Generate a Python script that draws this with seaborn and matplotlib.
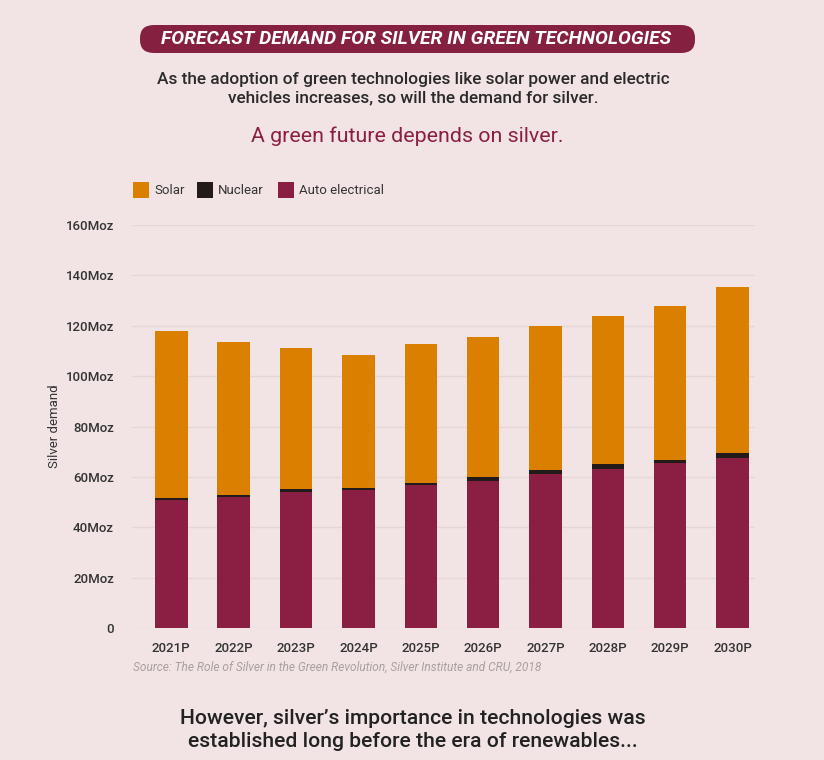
import matplotlib
matplotlib.use("Agg")
import matplotlib.pyplot as plt
from matplotlib.patches import FancyBboxPatch, Rectangle
import seaborn as sns
import numpy as np
import pandas as pd

years = ["2021P", "2022P", "2023P", "2024P", "2025P", "2026P", "2027P", "2028P", "2029P", "2030P"]
auto_electrical = [50.8, 52.0, 54.0, 54.8, 56.7, 58.3, 61.1, 63.1, 65.5, 67.5]
nuclear = [0.8, 0.8, 1.2, 0.8, 0.8, 1.7, 1.6, 1.9, 1.2, 1.9]
solar = [66.4, 60.7, 55.8, 52.7, 55.2, 55.5, 57.1, 58.8, 61.1, 65.9]
y_ticks = [0, 20, 40, 60, 80, 100, 120, 140, 160]
y_labels = ["0", "20Moz", "40Moz", "60Moz", "80Moz", "100Moz", "120Moz", "140Moz", "160Moz"]

BG = "#F2E4E5"
C_SOLAR = "#DB7F00"
C_NUC = "#231A1A"
C_AUTO = "#8B1F43"

sns.set_theme(style="white")
plt.rcParams["font.family"] = ["Roboto", "DejaVu Sans"]

df = pd.DataFrame({"year": years, "auto": auto_electrical, "nuclear": nuclear, "solar": solar})
df["lvl_auto"] = df["auto"]
df["lvl_nuc"] = df["auto"] + df["nuclear"]
df["lvl_total"] = df["lvl_nuc"] + df["solar"]

fig = plt.figure(figsize=(8.24, 7.6), dpi=100, facecolor=BG)
ax = fig.add_axes([132 / 824, (760 - 628) / 760, 623 / 824, 403 / 760])
ax.set_facecolor(BG)

for col, c in [("lvl_total", C_SOLAR), ("lvl_nuc", C_NUC), ("lvl_auto", C_AUTO)]:
    sns.barplot(data=df, x="year", y=col, color=c, width=0.52, ax=ax, saturation=1,
                zorder=3, linewidth=0, edgecolor="none")

ax.set_ylim(0, 160)
ax.set_xlim(-0.63, 9.36)
ax.set_yticks(y_ticks)
ax.set_yticklabels(y_labels)
ax.grid(axis="y", color="#E6D6D8", linewidth=1, zorder=0)
ax.grid(axis="x", visible=False)
for s in ax.spines.values():
    s.set_visible(False)
ax.tick_params(axis="both", length=0, labelsize=9.5, colors="#333333")
ax.tick_params(axis="y", pad=13)
ax.tick_params(axis="x", pad=10)
for lab in ax.get_xticklabels() + ax.get_yticklabels():
    lab.set_fontweight("medium")
ax.set_xlabel("")
ax.set_ylabel("Silver demand", fontsize=9.5, color="#333333", labelpad=3)

# Title banner
banner = FancyBboxPatch((140 / 824, 1 - 53 / 760), (695 - 140) / 824, 28 / 760,
                        boxstyle="round,pad=0,rounding_size=0.017", transform=fig.transFigure,
                        facecolor="#862040", edgecolor="none")
fig.patches.append(banner)
fig.text(416 / 824, 1 - 39 / 760, "FORECAST DEMAND FOR SILVER IN GREEN TECHNOLOGIES",
         ha="center", va="center", color="white", fontsize=13.9, fontweight="bold",
         fontstyle="italic")

fig.text(413 / 824, 1 - 89 / 760,
         "As the adoption of green technologies like solar power and electric\nvehicles increases, so will the demand for silver.",
         ha="center", va="center", color="#2A2A2A", fontsize=12.4, fontweight="medium",
         linespacing=1.3)
fig.text(407 / 824, 1 - 136 / 760, "A green future depends on silver.",
         ha="center", va="center", color="#8B1F43", fontsize=15.4)

# Legend
leg_items = [("Solar", C_SOLAR, 133), ("Nuclear", C_NUC, 197), ("Auto electrical", C_AUTO, 278)]
for label, col, x0 in leg_items:
    fig.patches.append(Rectangle((x0 / 824, 1 - 198 / 760), 16 / 824, 16 / 760,
                                 transform=fig.transFigure, facecolor=col, edgecolor="none"))
    fig.text((x0 + 21) / 824, 1 - 190 / 760, label, ha="left", va="center",
             fontsize=9.5, color="#333333")

fig.text(133 / 824, 1 - 667 / 760,
         "Source: The Role of Silver in the Green Revolution, Silver Institute and CRU, 2018",
         ha="left", va="center", fontsize=8.6, color="#A8A0A0", fontstyle="italic")

fig.text(413 / 824, 1 - 730 / 760,
         "However, silver\u2019s importance in technologies was\nestablished long before the era of renewables...",
         ha="center", va="center", fontsize=15.2, color="#222222", linespacing=1.3,
         fontweight="medium")

fig.savefig("out.png", dpi=100, facecolor=BG)
